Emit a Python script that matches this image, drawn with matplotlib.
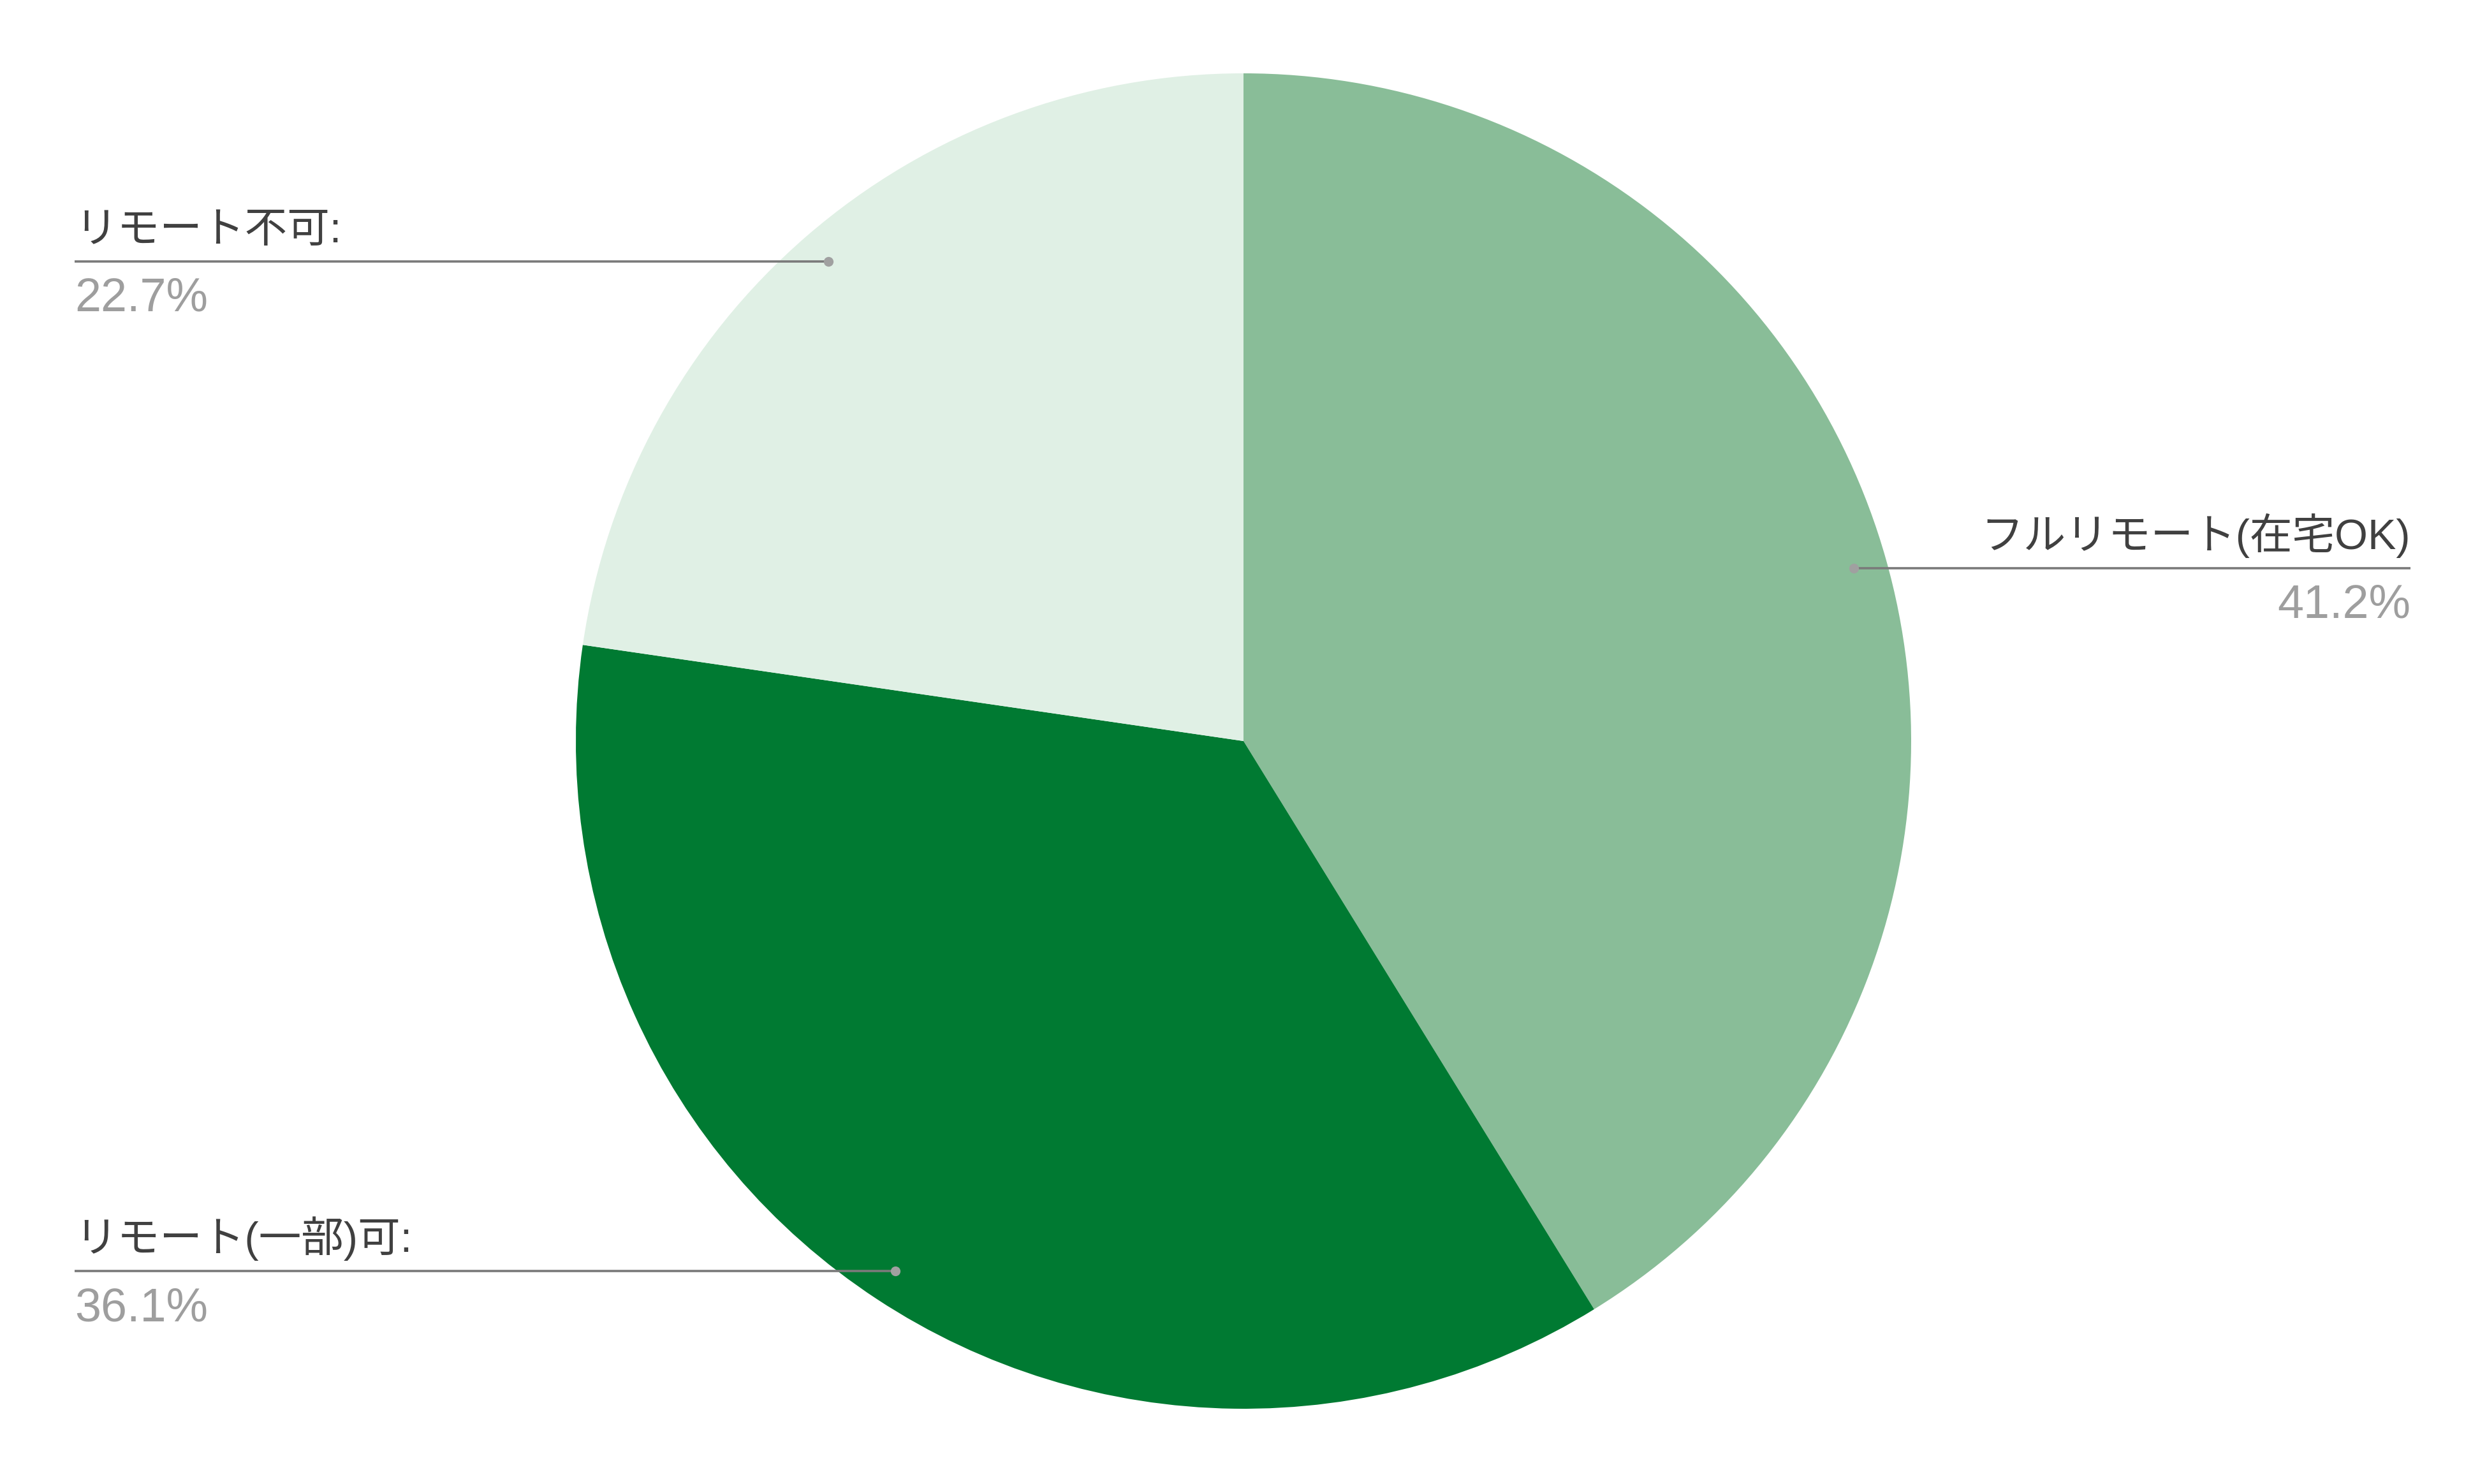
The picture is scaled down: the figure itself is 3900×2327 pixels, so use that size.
import numpy as np
import matplotlib
matplotlib.use("Agg")
import matplotlib.pyplot as plt

labels = ["フルリモート(在宅OK)", "リモート(一部)可", "リモート不可"]
values = [41.2, 36.1, 22.7]
colors = ["#89bd98", "#007a32", "#e0f0e5"]

W, H = 3900, 2327
fig = plt.figure(figsize=(W / 100, H / 100), dpi=100)
ax = fig.add_axes([0, 0, 1, 1])

cx, cy, R = 1950, H - 1162, 1047
wedges, _ = ax.pie(values, colors=colors, startangle=90, counterclock=False,
                   center=(cx, cy), radius=R, frame=True,
                   wedgeprops=dict(linewidth=0))
ax.set_xlim(0, W)
ax.set_ylim(0, H)
ax.set_aspect("equal")
ax.axis("off")

fonts = ["Liberation Sans", "Noto Sans CJK JP", "DejaVu Sans"]
left_x, right_x = 117, 3780

for w, lab, v in zip(wedges, labels, values):
    # leader starts at 95% radius on the slice's middle angle
    ang = np.deg2rad((w.theta1 + w.theta2) / 2)
    px = cx + 0.95 * R * np.cos(ang)
    py = cy + 0.95 * R * np.sin(ang)
    if np.cos(ang) >= 0:
        ex, ha, txt = right_x, "right", lab
    else:
        ex, ha, txt = left_x, "left", lab + ":"
    ax.plot([px, ex], [py, py], color="#7a7a7a", lw=2.6, solid_capstyle="butt", zorder=3)
    ax.plot([px], [py], "o", color="#a0a0a0", ms=11, mec="none", zorder=4)
    ax.text(ex, py + 16, txt, ha=ha, va="bottom", fontsize=48,
            color="#404040", family=fonts)
    ax.text(ex, py - 24, f"{v}%", ha=ha, va="top", fontsize=53,
            color="#9e9e9e", family=fonts)

fig.savefig("out.png", dpi=100, facecolor="white")
